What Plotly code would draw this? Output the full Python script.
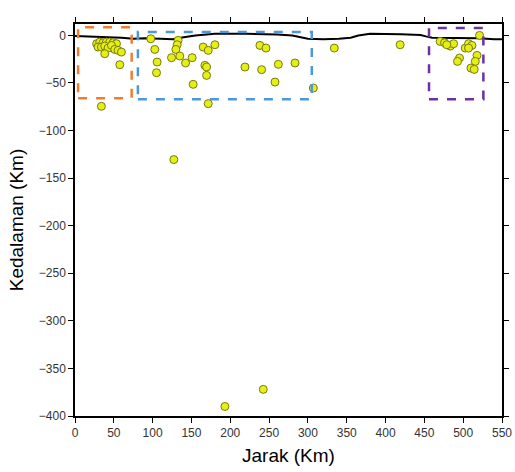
import plotly.graph_objects as go

# Earthquake hypocenters: distance (km) and depth (km, negative downward)
quake_x = [27.9, 31.9, 36.1, 40.4, 44.8, 49.0, 53.4, 29.7, 34.0, 38.3, 42.6, 47.0, 51.2, 55.5, 59.8, 38.3, 57.7, 34.0,
           97.6, 102.8, 132.8, 131.6, 129.9, 124.3, 135.0, 105.8, 105.0, 142.4, 150.9, 165.1, 171.6, 180.2, 167.3, 169.5,
           169.5, 152.2, 171.6,
           238.2, 246.0, 218.9, 240.4, 261.9, 283.4, 257.6, 307.0,
           334.0, 418.8,
           470.4, 476.0, 483.3, 487.6, 478.9, 502.6, 506.9, 511.3, 506.9, 521.1, 495.3, 492.7, 517.8, 515.6, 510.0, 514.2,
           127.3, 242.5, 193.1]
quake_y = [-8.7, -7.0, -7.7, -7.0, -7.0, -7.7, -8.7, -12.2, -12.2, -11.2, -13.3, -10.5, -14.7, -15.7, -17.5, -19.2, -30.8, -74.5,
           -3.5, -14.7, -5.2, -9.8, -14.7, -23.4, -21.7, -28.0, -39.2, -29.0, -23.4, -12.2, -15.7, -9.8, -31.5, -33.2,
           -42.0, -51.4, -71.7,
           -10.5, -13.3, -33.2, -36.0, -30.4, -29.0, -49.0, -55.3,
           -13.3, -9.8,
           -6.3, -7.7, -11.2, -8.7, -9.8, -13.3, -8.7, -10.5, -13.3, 0.0, -23.8, -27.3, -21.0, -27.3, -34.3, -35.7,
           -130.5, -372.0, -390.0]

# Topography profile
topo_x = [0, 30, 60, 75, 90, 110, 126, 140, 155, 180, 220, 260, 280, 300, 320, 340, 355, 365, 380, 420, 445, 452, 460, 490, 520, 540, 550]
topo_y = [-0.7, -1.5, -2.5, -3.5, -3, -3.5, -4, -2, 0, 1.8, 1.8, 1, 0, -3.5, -4, -3.5, -2.5, 0, 1.8, 1.2, 0.5, -1, -2.5, -2.8, -3, -4, -4]

# Cluster boxes
box_x0 = [4, 81, 456]
box_x1 = [73, 305, 526]
box_y0 = [-66, -67, -67]
box_y1 = [8.5, 3.5, 7.7]
box_colors = ["#ef7d31", "#4d98dc", "#7030a0"]

x_ticks = list(range(0, 551, 50))
y_ticks = list(range(-400, 1, 50))

fig = go.Figure()

fig.add_trace(go.Scatter(
    x=topo_x, y=topo_y, mode="lines",
    line=dict(color="black", width=2), showlegend=False, hoverinfo="skip"))

fig.add_trace(go.Scatter(
    x=quake_x, y=quake_y, mode="markers",
    marker=dict(size=8, color="#e4ef14", line=dict(color="#7a7a10", width=1)),
    showlegend=False))

for x0, x1, y0, y1, c in zip(box_x0, box_x1, box_y0, box_y1, box_colors):
    fig.add_shape(type="rect", x0=x0, x1=x1, y0=y0, y1=y1, xref="x", yref="y",
                  line=dict(color=c, width=2.5, dash="dash"), fillcolor="rgba(0,0,0,0)")

axis_common = dict(
    showgrid=False, zeroline=False, showline=True, linecolor="black", linewidth=1.5,
    mirror="ticks", ticks="outside", ticklen=5, tickcolor="black", tickwidth=1,
    automargin=False,
    tickfont=dict(family="Liberation Sans, Arial, sans-serif", size=12, color="#333333"),
)

fig.update_layout(
    width=515, height=472,
    margin=dict(l=75, r=13, t=24, b=56),
    paper_bgcolor="white", plot_bgcolor="white",
    xaxis=dict(range=[0, 550], tickvals=x_ticks,
               title=dict(text="Jarak (Km)", standoff=10,
                          font=dict(family="Liberation Sans, Arial, sans-serif", size=19, color="black")),
               **axis_common),
    yaxis=dict(range=[-400, 12], tickvals=y_ticks,
               title=dict(text="Kedalaman (Km)", standoff=10,
                          font=dict(family="Liberation Sans, Arial, sans-serif", size=19, color="black")),
               **axis_common),
)

fig.write_html("out.html", config={"displayModeBar": False},
               post_script="document.body.style.margin='0';document.body.style.overflow='hidden';")
